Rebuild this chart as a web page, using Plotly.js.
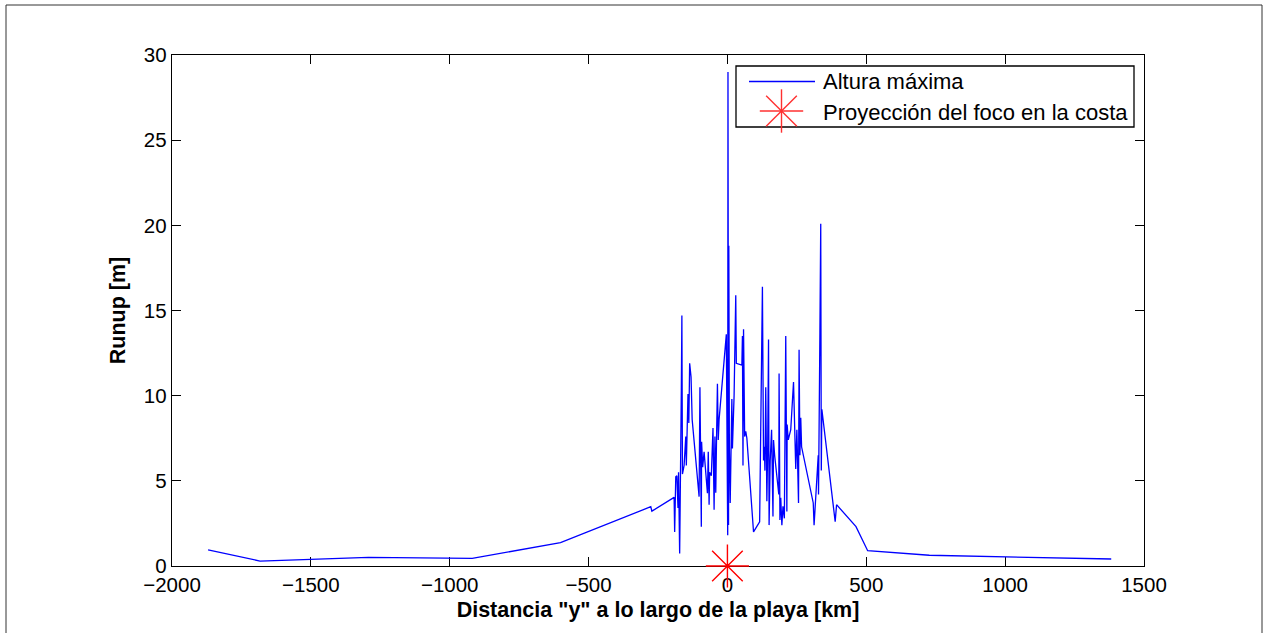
<!DOCTYPE html>
<html>
<head>
<meta charset="utf-8">
<script src="https://cdn.plot.ly/plotly-3.0.1.min.js"></script>
<style>html,body{margin:0;padding:0;background:#fff;}#chart{width:1266px;height:633px;}</style>
</head>
<body>
<div id="chart"></div>
<script>
// Distance along the beach [km]
const distancia = [-1870,-1683,-1293,-919,-601,-276,-272,-192,-190,-186,-182,-178,-176,-172,-166,-164,-162,-156,-150,-148,-142,-139,-136,-131,-127,-108,-102,-99,-94,-93,-89,-84,-76,-72,-69,-66,-64,-58,-52,-48,-45,-42,-39,-36,-33,-30,-4,-2,1,2,4,5,7,10,16,18,24,30,32,52,54,56,58,62,66,70,94,116,126,128,130,133,135,138,142,145,148,150,154,159,162,164,166,170,185,186,189,192,196,200,205,210,214,215,219,228,238,246,250,256,258,261,264,267,309,312,327,328,333,336,338,340,388,393,463,505,727,1382];
// Maximum runup [m]
const runup = [0.95,0.29,0.51,0.45,1.37,3.48,3.22,4.03,2.0,5.24,5.3,3.4,5.5,0.74,10.3,14.7,5.4,5.9,7.6,5.9,10.1,8.4,11.9,11.1,8.6,5.24,4.07,10.5,2.3,7.3,5.8,6.7,5.0,4.27,6.7,3.6,5.5,5.3,8.1,3.3,7.6,4.3,7.7,10.7,7.4,8.6,13.6,8.0,1.8,29.0,2.4,18.8,7.0,3.7,9.8,6.9,10.0,15.9,11.9,11.8,13.5,5.9,13.9,7.6,7.9,7.5,2.0,2.6,16.4,9.0,6.2,7.0,5.6,10.5,3.8,7.0,13.3,2.4,6.2,8.0,4.0,2.9,7.4,6.5,4.2,11.3,2.7,4.0,2.4,3.5,2.8,13.5,3.2,8.3,7.4,8.0,10.8,5.7,8.0,3.7,12.7,6.5,8.7,7.0,3.7,2.4,6.5,4.2,13.7,20.1,5.6,9.2,2.6,3.6,2.31,0.9,0.63,0.41];
// Epicentre projection on the coast
const focoX = [0];
const focoY = [0];
const legendLabels = ["Altura máxima", "Proyección del foco en la costa"];
const xTitle = 'Distancia "y" a lo largo de la playa [km]';
const yTitle = 'Runup [m]';

const W = 1266, H = 633;
const M = {l: 172, r: 122, t: 55, b: 67};
const PW = W - M.l - M.r, PH = H - M.t - M.b;
const px = x => (x - M.l) / PW;
const py = y => (H - M.b - y) / PH;
const FONT = '"Liberation Sans", Arial, Helvetica, sans-serif';

const traces = [
  {x: distancia, y: runup, type: 'scatter', mode: 'lines', name: legendLabels[0],
   line: {color: '#0000ff', width: 1.3}, showlegend: false, hoverinfo: 'x+y'},
  {x: focoX, y: focoY, type: 'scatter', mode: 'markers', name: legendLabels[1],
   marker: {symbol: 'asterisk-open', size: 36, color: '#ff0000', line: {color: '#ff2020', width: 1.4}},
   cliponaxis: false, showlegend: false}
];

// manual legend (box, line sample, star glyph, labels)
const shapes = [
  {type: 'rect', xref: 'paper', yref: 'paper', x0: px(6), x1: px(1262), y0: py(5), y1: py(640),
   line: {color: '#333', width: 1}, fillcolor: 'rgba(0,0,0,0)', layer: 'below'},
  {type: 'rect', xref: 'paper', yref: 'paper', x0: px(736), x1: px(1134), y0: py(66), y1: py(127),
   line: {color: '#000', width: 1.3}, fillcolor: '#fff'},
  {type: 'line', xref: 'paper', yref: 'paper', x0: px(749), x1: px(815), y0: py(81.5), y1: py(81.5),
   line: {color: '#0000ff', width: 1.3}}
];
const cx = 781.5, cy = 111, R = 21.7, D = R / Math.SQRT2;
[[0, R], [R, 0], [D, D], [D, -D]].forEach(([dx, dy]) => {
  shapes.push({type: 'line', xref: 'paper', yref: 'paper',
    x0: px(cx - dx), x1: px(cx + dx), y0: py(cy - dy), y1: py(cy + dy),
    line: {color: '#ff3030', width: 1.4}});
});

const annotations = [
  {xref: 'paper', yref: 'paper', x: px(821), y: py(81), xanchor: 'left', yanchor: 'middle',
   text: legendLabels[0], showarrow: false, font: {family: FONT, size: 22, color: '#000'}},
  {xref: 'paper', yref: 'paper', x: px(821), y: py(112), xanchor: 'left', yanchor: 'middle',
   text: legendLabels[1], showarrow: false, font: {family: FONT, size: 22, color: '#000'}}
];

const axisCommon = {
  showgrid: false, zeroline: false, showline: true, linecolor: '#000', linewidth: 1.3,
  mirror: 'ticks', ticks: 'inside', ticklen: 9, tickwidth: 1, tickcolor: '#000',
  tickfont: {family: FONT, size: 20.5, color: '#000'}, automargin: false,
  layer: 'below traces'
};

const layout = {
  width: W, height: H, margin: M,
  paper_bgcolor: '#fff', plot_bgcolor: '#fff',
  font: {family: FONT, color: '#000'},
  showlegend: false,
  xaxis: Object.assign({}, axisCommon, {
    range: [-2000, 1500], tickvals: [-2000,-1500,-1000,-500,0,500,1000,1500],
    ticktext: ['\u22122000','\u22121500','\u22121000','\u2212500','0','500','1000','1500'],
    title: {text: xTitle, font: {family: FONT, size: 21.5, color: '#000', weight: 'bold'}, standoff: 7}
  }),
  yaxis: Object.assign({}, axisCommon, {
    range: [0, 30], tickvals: [0,5,10,15,20,25,30],
    title: {text: yTitle, font: {family: FONT, size: 21.5, color: '#000', weight: 'bold'}, standoff: 12}
  }),
  shapes: shapes,
  annotations: annotations
};

Plotly.newPlot('chart', traces, layout, {staticPlot: true, displayModeBar: false});
</script>
</body>
</html>
